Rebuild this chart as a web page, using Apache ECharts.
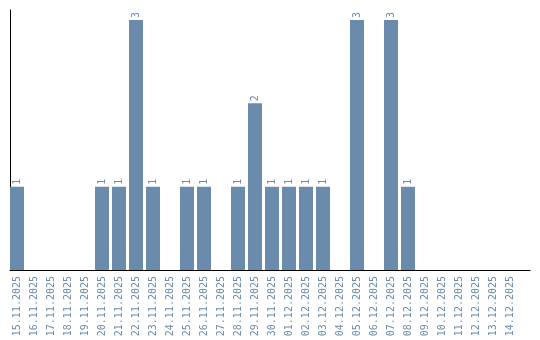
<!DOCTYPE html>
<html><head><meta charset="utf-8">
<script src="https://cdn.jsdelivr.net/npm/echarts@6/dist/echarts.min.js"></script>
<style>html,body{margin:0;padding:0;background:#fff}#c{width:540px;height:340px}</style>
</head><body><div id="c"></div>
<script>
const categories = ["15.11.2025","16.11.2025","17.11.2025","18.11.2025","19.11.2025","20.11.2025","21.11.2025","22.11.2025","23.11.2025","24.11.2025","25.11.2025","26.11.2025","27.11.2025","28.11.2025","29.11.2025","30.11.2025","01.12.2025","02.12.2025","03.12.2025","04.12.2025","05.12.2025","06.12.2025","07.12.2025","08.12.2025","09.12.2025","10.12.2025","11.12.2025","12.12.2025","13.12.2025","14.12.2025"];
const values = [1,0,0,0,0,1,1,3,1,0,1,1,0,1,2,1,1,1,1,0,3,0,3,1,0,0,0,0,0,0];

const barColor = '#6a8bab';
const textColor = '#6a8bab';
const chart = echarts.init(document.getElementById('c'), null, {renderer:'canvas'});
chart.setOption({
  animation: false,
  grid: [
    {left: 8.5, top: 10, width: 510, height: 260},
    {left: 10, top: 10, width: 520, height: 260}
  ],
  xAxis: [
    {gridIndex: 0, type: 'category', data: categories, boundaryGap: true,
     axisLine: {show: false}, axisTick: {show: false},
     axisLabel: {rotate: 90, interval: 0, margin: 6, color: textColor, fontFamily: 'DejaVu Sans Mono', fontSize: 10}},
    {gridIndex: 1, type: 'category', data: categories, axisLabel: {show: false}, axisTick: {show: false},
     axisLine: {show: true, lineStyle: {color: '#000', width: 1}}}
  ],
  yAxis: [
    {gridIndex: 0, type: 'value', min: 0, max: 3.12, show: false},
    {gridIndex: 1, type: 'value', min: 0, max: 3.12, axisLabel: {show: false}, axisTick: {show: false},
     splitLine: {show: false}, axisLine: {show: true, lineStyle: {color: '#000', width: 1}}}
  ],
  series: [{
    type: 'bar', xAxisIndex: 0, yAxisIndex: 0, data: values, barWidth: 14,
    itemStyle: {color: barColor},
    label: {show: true, position: 'top', rotate: 90, align: 'left', verticalAlign: 'middle', distance: 2,
      color: textColor, fontFamily: 'DejaVu Sans Mono', fontSize: 10,
      formatter: p => p.value > 0 ? String(p.value) : ''}
  }]
});
</script></body></html>
